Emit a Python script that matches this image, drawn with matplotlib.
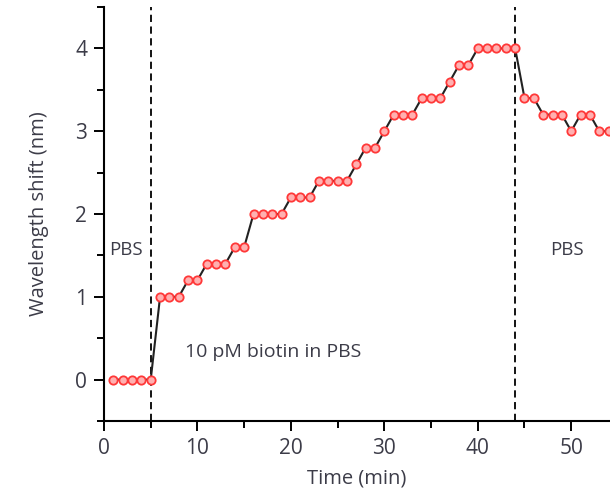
import matplotlib
matplotlib.use("Agg")
import matplotlib.pyplot as plt
from matplotlib.ticker import MultipleLocator

# Data (time in min, wavelength shift in nm)
time_min = list(range(1, 55))
shift_nm = [0, 0, 0, 0, 0,
            1.0, 1.0, 1.0, 1.2, 1.2,
            1.4, 1.4, 1.4, 1.6, 1.6,
            2.0, 2.0, 2.0, 2.0, 2.2,
            2.2, 2.2, 2.4, 2.4, 2.4,
            2.4, 2.6, 2.8, 2.8, 3.0,
            3.2, 3.2, 3.2, 3.4, 3.4,
            3.4, 3.6, 3.8, 3.8, 4.0,
            4.0, 4.0, 4.0, 4.0, 3.4,
            3.4, 3.2, 3.2, 3.2, 3.0,
            3.2, 3.2, 3.0, 3.0]
event_times = [5, 44]
x_ticks = [0, 10, 20, 30, 40, 50]
y_ticks = [0, 1, 2, 3, 4]
annotations = [("PBS", 0.5, 1.57, "left"),
               ("10 pM biotin in PBS", 8.7, 0.33, "left"),
               ("PBS", 49.5, 1.57, "center")]

plt.rcParams['font.family'] = ['Open Sans', 'DejaVu Sans']
text_color = '#3c3c48'

fig = plt.figure(figsize=(6.1, 4.9), dpi=100)
ax = fig.add_axes([0.1705, 0.1408, 0.8295, 0.8449])

ax.plot(time_min, shift_nm, color='#222222', lw=1.5, zorder=2)
ax.plot(time_min, shift_nm, ls='none', marker='o', ms=6,
        mfc='#ffb0b0', mec='#ff3838', mew=1.3, zorder=3)

for t in event_times:
    ax.axvline(t, color='black', lw=1.3, ls=(0, (4, 2.5)), zorder=1)

for txt, x, y, ha in annotations:
    fs = 14 if txt.startswith('10') else 13.5
    ax.text(x, y, txt, ha=ha, va='center', fontsize=fs, color=text_color)

ax.set_xlim(0, 54.15)
ax.set_ylim(-0.5, 4.5)
ax.set_xticks(x_ticks)
ax.set_yticks(y_ticks)
ax.xaxis.set_minor_locator(MultipleLocator(5))
ax.yaxis.set_minor_locator(MultipleLocator(0.5))

for s in ['top', 'right']:
    ax.spines[s].set_visible(False)
for s in ['left', 'bottom']:
    ax.spines[s].set_linewidth(1.5)
    ax.spines[s].set_color('black')

ax.tick_params(which='major', direction='out', length=7, width=1.4,
               labelsize=15, labelcolor=text_color, pad=5)
ax.tick_params(which='minor', direction='out', length=5, width=1.4)

ax.set_xlabel('Time (min)', fontsize=14.5, color=text_color, labelpad=7)
ax.set_ylabel('Wavelength shift (nm)', fontsize=14.5, color=text_color, labelpad=19)

fig.savefig('out.png', dpi=100)
